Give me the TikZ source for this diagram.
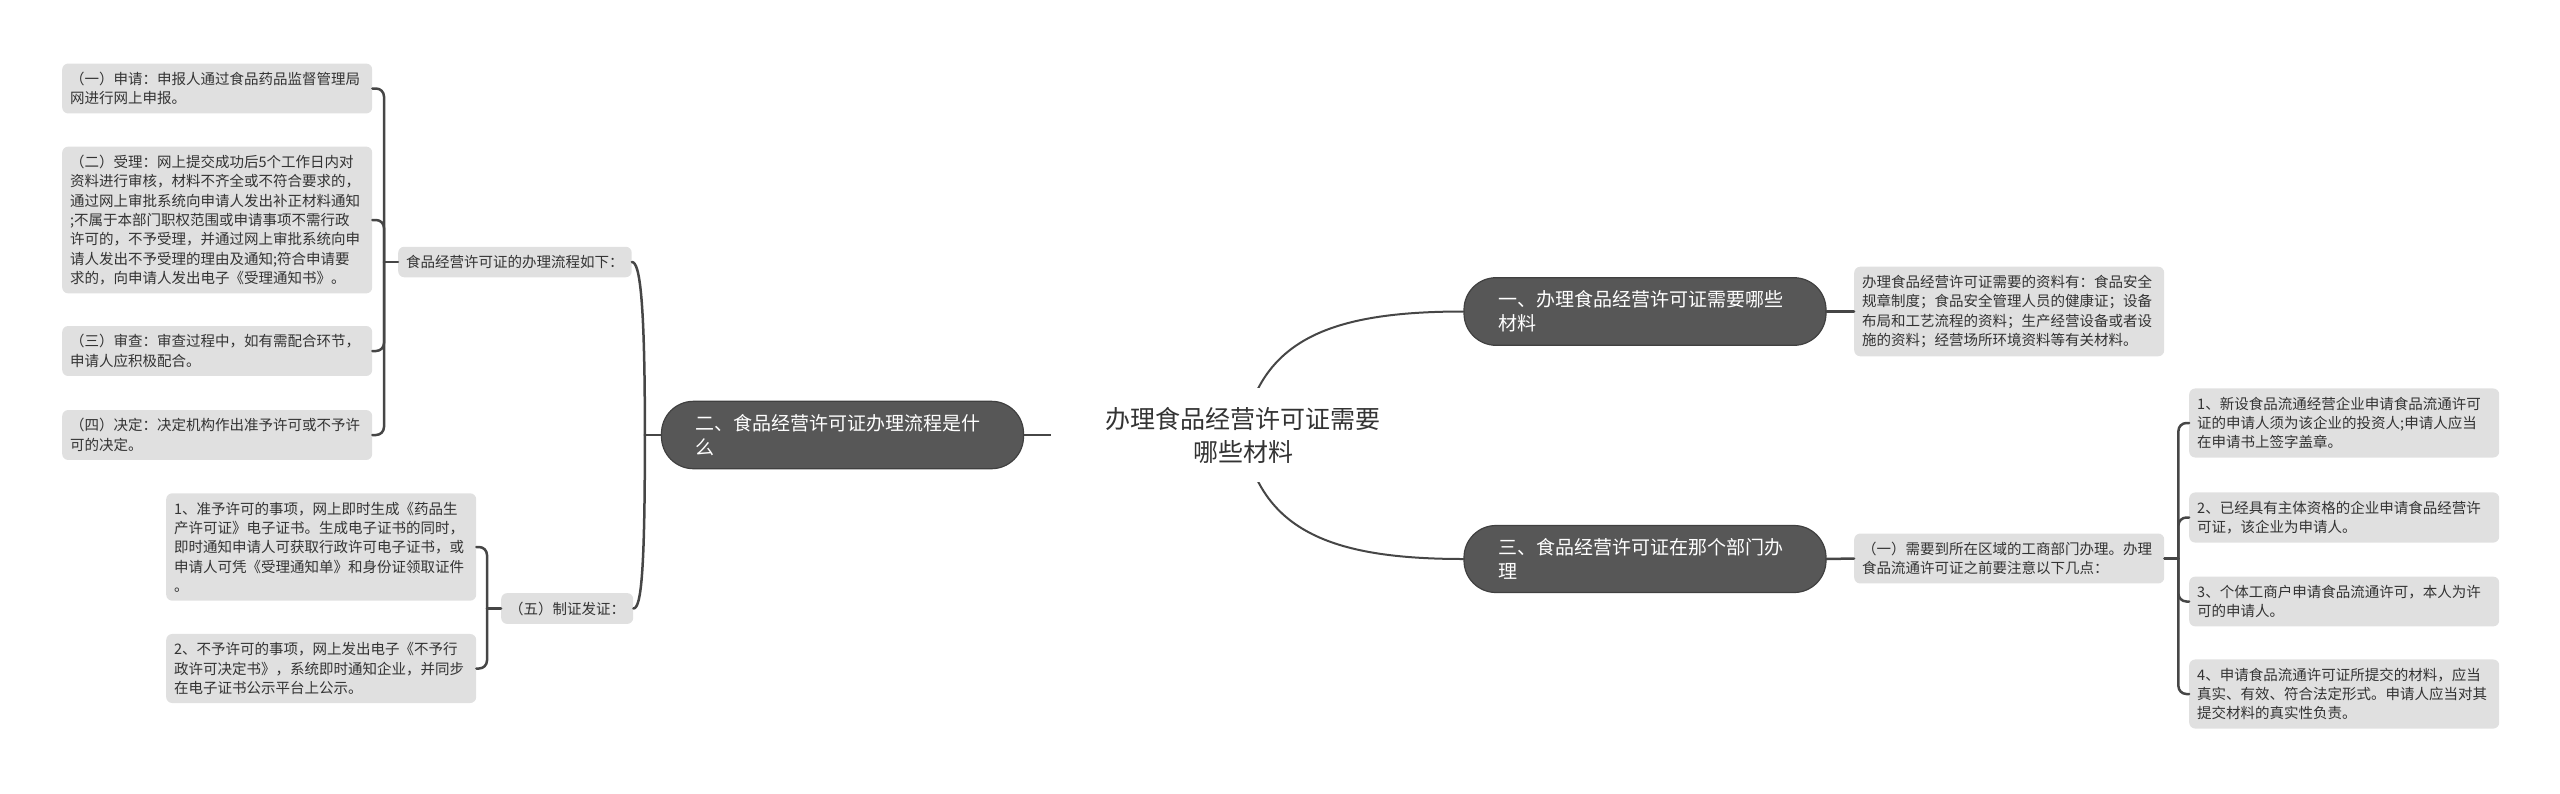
\documentclass[tikz,border=0pt]{standalone}
\usepackage{fontspec}
\setmainfont{Noto Sans CJK SC}
\usepackage{tikz}
\definecolor{ink}{HTML}{333333}
\definecolor{leafgray}{HTML}{E0E0E0}
\definecolor{topicgray}{HTML}{575757}
\definecolor{topicedge}{HTML}{404040}
\definecolor{linegray}{HTML}{464646}
\tikzset{
  mind map page/.style={
    x=1pt,
    y=-1pt,
    line cap=round,
    line join=round,
    text=ink
  },
  leafbox/.style={
    fill=leafgray,
    rounded corners=6pt,
    inner xsep=8pt,
    inner ysep=8.5pt,
    align=left,
    font=\fontsize{14.5pt}{19.3pt}\selectfont
  },
  notebox/.style={
    leafbox,
    text width=294pt
  },
  topicbox/.style={
    fill=topicgray,
    draw=topicedge,
    line width=1.2pt,
    text=white,
    rounded corners=32pt,
    inner xsep=34pt,
    inner ysep=13pt,
    text width=294pt,
    align=left,
    font=\fontsize{19pt}{24pt}\selectfont
  },
  rootbox/.style={
    fill=white,
    minimum width=384pt,
    minimum height=94pt,
    align=center,
    font=\fontsize{25pt}{33pt}\selectfont
  },
  branch/.style={
    draw=linegray,
    line width=2.5pt,
    rounded corners=8pt
  },
  trunk/.style={
    draw=linegray,
    line width=2pt
  }
}

\begin{document}
\begin{tikzpicture}[mind map page]
\useasboundingbox (0,0) rectangle (2560,793);

\node[notebox, anchor=west] (ps1) at (62,88.5) {（一）申请：申报人通过食品药品监督管理局\\网进行网上申报。};
\node[notebox, anchor=west] (ps2) at (62,220) {（二）受理：网上提交成功后5个工作日内对\\资料进行审核，材料不齐全或不符合要求的，\\通过网上审批系统向申请人发出补正材料通知\\;不属于本部门职权范围或申请事项不需行政\\许可的，不予受理，并通过网上审批系统向申\\请人发出不予受理的理由及通知;符合申请要\\求的，向申请人发出电子《受理通知书》。};
\node[notebox, anchor=west] (ps3) at (62,351) {（三）审查：审查过程中，如有需配合环节，\\申请人应积极配合。};
\node[notebox, anchor=west] (ps4) at (62,435) {（四）决定：决定机构作出准予许可或不予许\\可的决定。};
\node[leafbox, anchor=west] (flow) at (398,262) {食品经营许可证的办理流程如下：};

\node[notebox, anchor=west] (ic1) at (166,547) {1、准予许可的事项，网上即时生成《药品生\\产许可证》电子证书。生成电子证书的同时，\\即时通知申请人可获取行政许可电子证书，或\\申请人可凭《受理通知单》和身份证领取证件\\。};
\node[notebox, anchor=west] (ic2) at (166,668.5) {2、不予许可的事项，网上发出电子《不予行\\政许可决定书》，系统即时通知企业，并同步\\在电子证书公示平台上公示。};
\node[leafbox, anchor=west] (issue) at (501,608.5) {（五）制证发证：};

\node[topicbox] (two) at (842.5,435) {二、食品经营许可证办理流程是什\\么};
\node[topicbox] (one) at (1645,311.5) {一、办理食品经营许可证需要哪些\\材料};
\node[topicbox] (three) at (1645,559) {三、食品经营许可证在那个部门办\\理};

\node[notebox, anchor=west] (needs) at (1854,311.5) {办理食品经营许可证需要的资料有：食品安全\\规章制度；食品安全管理人员的健康证；设备\\布局和工艺流程的资料；生产经营设备或者设\\施的资料；经营场所环境资料等有关材料。};
\node[notebox, anchor=west] (dept) at (1854,558.5) {（一）需要到所在区域的工商部门办理。办理\\食品流通许可证之前要注意以下几点：};

\node[notebox, anchor=west] (pt1) at (2189,423) {1、新设食品流通经营企业申请食品流通许可\\证的申请人须为该企业的投资人;申请人应当\\在申请书上签字盖章。};
\node[notebox, anchor=west] (pt2) at (2189,517.5) {2、已经具有主体资格的企业申请食品经营许\\可证，该企业为申请人。};
\node[notebox, anchor=west] (pt3) at (2189,601.5) {3、个体工商户申请食品流通许可，本人为许\\可的申请人。};
\node[notebox, anchor=west] (pt4) at (2189,694) {4、申请食品流通许可证所提交的材料，应当\\真实、有效、符合法定形式。申请人应当对其\\提交材料的真实性负责。};

\coordinate (hub) at (1243,435);

\draw[branch] (flow.west) -- ++(-14,0) coordinate (fj);
\foreach \n in {ps1,ps2,ps3,ps4}
  \draw[branch] (fj) |- (\n.east);
\draw[branch] (issue.west) -- ++(-14,0) coordinate (ij);
\foreach \n in {ic1,ic2}
  \draw[branch] (ij) |- (\n.east);
\draw[branch] (two.west) -- ++(-16,0) coordinate (tj);
\draw[branch] (tj) .. controls +(0,-135) and +(8,0) .. (flow.east);
\draw[branch] (tj) .. controls +(0,135) and +(8,0) .. (issue.east);

\draw[branch] (one.east) -- (needs.west);
\draw[branch] (three.east) -- (dept.west);
\draw[branch] (dept.east) -- ++(14,0) coordinate (dj);
\foreach \n in {pt1,pt2,pt3,pt4}
  \draw[branch] (dj) |- (\n.west);

\draw[trunk] (hub) -- (two.east);
\draw[trunk] (hub) .. controls +(17,-95) and +(-134,0) .. (one.west);
\draw[trunk] (hub) .. controls +(17,95) and +(-134,0) .. (three.west);
\node[rootbox] (root) at (hub) {办理食品经营许可证需要\\哪些材料};
\end{tikzpicture}
\end{document}
